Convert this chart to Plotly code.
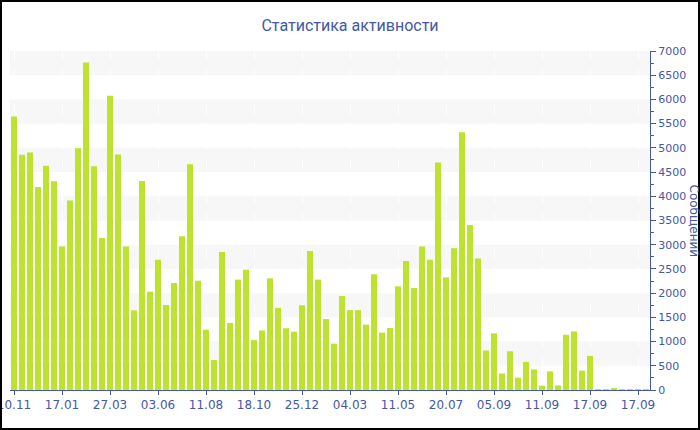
import plotly.graph_objects as go

messages = [
    5650, 4860, 4905, 4190, 4630, 4310, 2965, 3915, 4990, 6760,
    4620, 3140, 6075, 4865, 2965, 1645, 4315, 2030, 2690, 1755,
    2210, 3175, 4660, 2255, 1245, 620, 2850, 1385, 2280, 2485,
    1030, 1230, 2305, 1695, 1275, 1205, 1750, 2870, 2280, 1465,
    955, 1940, 1650, 1650, 1350, 2390, 1185, 1280, 2140, 2665,
    2105, 2965, 2690, 4700, 2325, 2925, 5320, 3405, 2715, 815,
    1170, 340, 800, 255, 580, 425, 90, 385, 95, 1140,
    1210, 400, 705, 15, 15, 25, 15, 15, 20, 15,
]
tick_labels = [
    "10.11", "17.01", "27.03", "03.06", "11.08", "18.10", "25.12",
    "04.03", "11.05", "20.07", "05.09", "11.09", "17.09", "17.09",
]

x = list(range(len(messages)))
tick_pos = [i * 6 for i in range(len(tick_labels))]

blue = "#4358a6"
bar_color = "#bde22f"

fig = go.Figure(
    go.Bar(
        x=x,
        y=messages,
        marker=dict(color=bar_color, line=dict(width=0)),
    )
)

# alternating grey bands
shapes = []
for lo in range(500, 7000, 1000):
    shapes.append(dict(
        type="rect", xref="paper", yref="y",
        x0=0, x1=1, y0=lo, y1=lo + 500,
        fillcolor="#f7f7f7", line=dict(width=0), layer="below",
    ))

# outer frame
pw, ph = 640, 339
shapes.append(dict(
    type="rect", xref="paper", yref="paper",
    x0=-9 / pw, x1=689 / pw, y0=-39 / ph, y1=389 / ph,
    line=dict(color="black", width=2), fillcolor="rgba(0,0,0,0)",
    layer="above",
))

fig.update_layout(
    width=700,
    height=430,
    margin=dict(l=10, r=50, t=51, b=40, autoexpand=False),
    paper_bgcolor="white",
    plot_bgcolor="white",
    bargap=0.25,
    showlegend=False,
    title=dict(
        text="Статистика активности",
        x=0.5, xref="container", xanchor="center",
        y=0.942, yref="container", yanchor="middle",
        font=dict(family="Roboto", size=16, color=blue),
    ),
    font=dict(family="DejaVu Sans", size=11, color=blue),
    shapes=shapes,
    annotations=[dict(
        text="Сообщений", xref="paper", yref="paper",
        x=684 / pw, y=0.5, xanchor="center", yanchor="middle",
        textangle=90, showarrow=False,
        font=dict(family="DejaVu Sans", size=12, color=blue),
    )],
)

fig.update_xaxes(
    automargin=False,
    range=[-0.5, len(messages) - 0.5],
    tickmode="array",
    tickvals=tick_pos,
    ticktext=tick_labels,
    ticklabeloverflow="allow",
    ticks="outside",
    ticklen=4,
    tickcolor=blue,
    showline=True,
    linecolor=blue,
    linewidth=1,
    showgrid=True,
    gridcolor="white",
    griddash="dash",
    gridwidth=1,
    zeroline=False,
    tickfont=dict(family="DejaVu Sans", size=12, color=blue),
)

fig.update_yaxes(
    automargin=False,
    side="right",
    range=[0, 7000],
    dtick=500,
    ticks="outside",
    ticklen=5,
    tickcolor=blue,
    minor=dict(dtick=250, ticks="outside", ticklen=3, tickcolor=blue),
    showline=True,
    linecolor=blue,
    linewidth=1,
    showgrid=False,
    zeroline=False,
    tickfont=dict(family="DejaVu Sans", size=11, color=blue),
)

fig.write_html(
    "out.html",
    config={"displayModeBar": False},
    post_script="document.body.style.margin='0';",
)
